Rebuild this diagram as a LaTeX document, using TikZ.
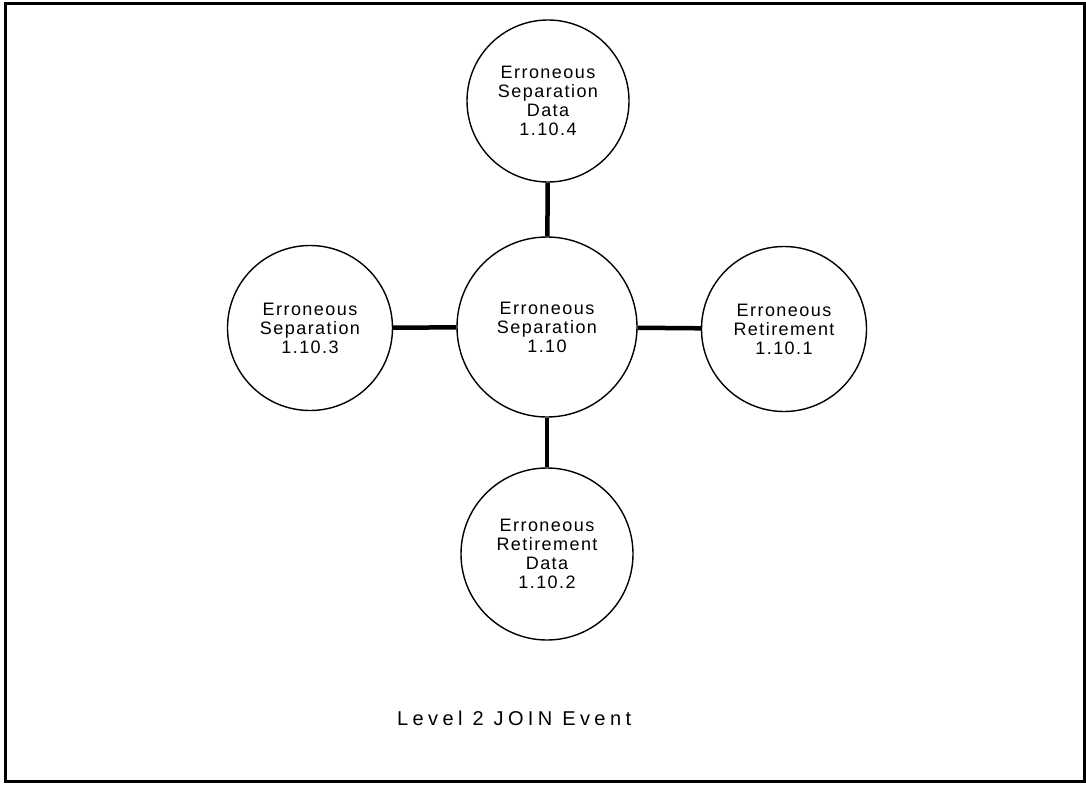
\documentclass[tikz,border=0pt]{standalone}
\usepackage{fontspec}
\setmainfont{Liberation Sans}
\newfontfamily\bubfont[LetterSpace=8]{Liberation Sans}
\newfontfamily\capfont[LetterSpace=22]{Liberation Sans}
\begin{document}
\begin{tikzpicture}[x=1pt,y=-1pt,
  bubble/.style={draw, circle, line width=1.4pt, inner sep=0pt, align=center,
    font=\fontsize{18}{19}\bubfont},
  link/.style={line width=4.5pt}]
\useasboundingbox (0,0) rectangle (1086,784);
\draw[line width=3pt] (5,4) rectangle (1084,781);
\node[bubble, minimum size=162pt] (top) at (548,101) {Erroneous\\Separation\\Data\\1.10.4};
\node[bubble, minimum size=180pt] (mid) at (547,327) {Erroneous\\Separation\\1.10};
\node[bubble, minimum size=165pt] (left) at (310,328) {Erroneous\\Separation\\1.10.3};
\node[bubble, minimum size=165pt] (right) at (784,329) {Erroneous\\Retirement\\1.10.1};
\node[bubble, minimum size=172pt] (bot) at (547,554) {Erroneous\\Retirement\\Data\\1.10.2};
\draw[link] (top) -- (mid);
\draw[link] (mid) -- (bot);
\draw[link] (left) -- (mid);
\draw[link] (mid) -- (right);
\node[font=\fontsize{20}{21}\capfont, anchor=west, inner sep=0pt] (cap) at (397,718) {Level 2 JOIN Event};
\end{tikzpicture}
\end{document}
